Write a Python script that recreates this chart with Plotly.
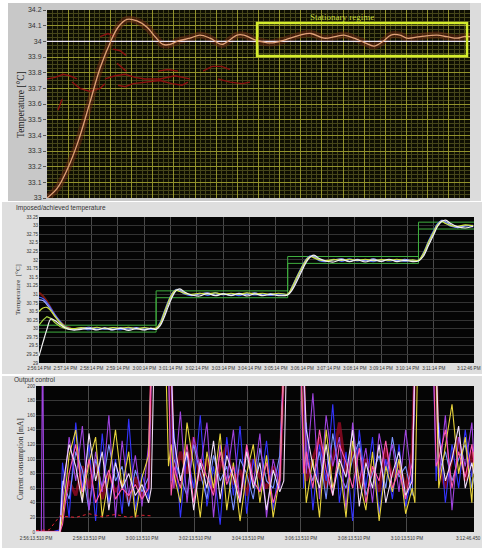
import plotly.graph_objects as go

W, H = 488, 550

# ---------------- panel 1 : temperature around the 34 degC set point ----------------
p1_x = [0, 0.47, 0.95, 1.47, 2.03, 2.51, 2.98, 3.36, 3.78, 4.26, 4.73, 5.11, 5.48, 5.82, 6.15,
        6.76, 7.23, 7.71, 8.27, 8.65, 8.98, 9.31, 9.83, 10.59, 11.25, 11.96, 12.48, 13.1, 13.62,
        14.04, 14.52, 15.04, 15.46, 15.89, 16.26, 16.69, 17.02, 17.64, 18.44, 18.91, 19.39, 19.72, 20.0]
p1_temp = [33.0, 33.06, 33.18, 33.36, 33.61, 33.83, 33.99, 34.09, 34.14, 34.13, 34.09, 34.03, 33.98,
           33.98, 34.0, 34.02, 34.04, 34.02, 33.98, 34.01, 34.04, 34.04, 34.01, 33.99, 34.01, 34.04,
           34.05, 34.02, 34.03, 34.04, 34.02, 33.99, 33.97, 34.0, 34.04, 34.04, 34.02, 34.03, 34.04,
           34.03, 34.02, 34.03, 34.03]
p1_setpoint = 34.0
# broken dark-red trace (gaps = None)
p1_red_x = [0, 0.38, 0.76, 1.09, 1.42, None,
            1.18, 1.56, 2.03, 2.51, 2.74, None,
            2.74, 3.22, 3.69, 4.16, 4.63, 5.34, 6.05, 6.76, None,
            3.36, 3.69, 4.07, 4.63, 5.34, 5.91, 6.38, 6.67, None,
            5.25, 5.72, 6.19, None,
            7.38, 7.8, 8.27, 8.65, None,
            8.08, 8.65, 9.22, 9.6, None,
            2.51, 2.88, 3.22, None,
            3.12, 3.45, 3.74, None,
            3.31, 3.55, 3.74, None,
            0.52, 0.71]
p1_red_y = [33.76, 33.77, 33.79, 33.78, 33.76, None,
            33.74, 33.70, 33.68, 33.70, 33.73, None,
            33.76, 33.78, 33.79, 33.77, 33.76, 33.76, 33.78, 33.76, None,
            33.72, 33.71, 33.73, 33.74, 33.75, 33.73, 33.72, 33.74, None,
            33.81, 33.82, 33.81, None,
            33.81, 33.84, 33.84, 33.82, None,
            33.76, 33.74, 33.73, 33.74, None,
            34.03, 34.05, 34.03, None,
            33.95, 33.94, 33.91, None,
            33.86, 33.83, 33.81, None,
            33.56, 33.63]

# ---------------- panel 2 : imposed / achieved temperature ----------------
t2 = [0.0, 0.15, 0.3, 0.45, 0.6, 0.8, 1.0, 1.3, 1.6, 1.9, 2.2, 2.5, 2.8, 3.1, 3.4, 3.7, 4.0, 4.25, 4.45,
      4.6, 4.75, 4.9, 5.05, 5.2, 5.35, 5.55, 5.8, 6.1, 6.4, 6.7, 7.0, 7.3, 7.6, 7.9, 8.2, 8.5, 8.8, 9.1, 9.45,
      9.6, 9.8, 10.0, 10.15, 10.3, 10.45, 10.65, 10.9, 11.2, 11.5, 11.8, 12.1, 12.4, 12.7, 13.0, 13.3, 13.6,
      13.9, 14.2, 14.42,
      14.6, 14.8, 15.0, 15.15, 15.3, 15.45, 15.65, 15.9, 16.2, 16.5]
s_blue = [30.92, 30.88, 30.76, 30.6, 30.42, 30.22, 30.06, 29.99, 30.02, 29.97, 30.03, 29.98, 30.02, 29.97,
          30.03, 29.99, 30.02, 29.98, 30.0,
          30.18, 30.48, 30.78, 31.02, 31.14, 31.1, 31.0, 30.96, 31.03, 30.97, 31.04, 30.98, 31.02, 30.96,
          31.03, 30.98, 31.01, 30.97, 31.02, 31.0,
          31.2, 31.52, 31.82, 32.02, 32.12, 32.08, 31.98, 31.95, 32.02, 31.96, 32.03, 31.97, 32.01, 31.95,
          32.02, 31.97, 32.0, 31.96, 31.99, 31.98,
          32.2, 32.55, 32.86, 33.06, 33.14, 33.08, 32.98, 32.95, 33.0, 32.96]
s_lavender = [30.84, 30.82, 30.7, 30.55, 30.38, 30.18, 30.03, 29.97, 30.01, 30.04, 29.98, 30.01, 29.96,
              30.02, 29.99, 30.03, 29.97, 30.01, 29.99,
              30.12, 30.4, 30.7, 30.95, 31.12, 31.12, 31.04, 30.97, 31.01, 31.04, 30.97, 31.02, 30.96,
              31.03, 30.99, 31.04, 30.97, 31.02, 30.98, 30.99,
              31.14, 31.45, 31.76, 31.97, 32.1, 32.1, 32.02, 31.96, 32.0, 32.03, 31.96, 32.02, 31.97,
              32.03, 31.96, 32.01, 31.97, 32.02, 31.97, 31.99,
              32.15, 32.48, 32.8, 33.02, 33.15, 33.12, 33.02, 32.94, 32.99, 33.01]
s_white = [29.2, 29.6, 29.98, 30.28, 30.24, 30.12, 30.02, 29.96, 29.98, 30.01, 29.96, 30.02, 29.97, 30.01,
           29.95, 30.0, 29.96, 30.01, 29.98,
           30.08, 30.32, 30.62, 30.9, 31.1, 31.16, 31.06, 30.98, 30.95, 31.02, 30.96, 31.01, 30.97, 31.02,
           30.95, 31.01, 30.96, 31.0, 30.96, 30.98,
           31.1, 31.38, 31.7, 31.93, 32.08, 32.14, 32.04, 31.97, 31.94, 32.01, 31.95, 32.0, 31.94, 32.0,
           31.96, 32.02, 31.95, 31.99, 31.95, 31.97,
           32.1, 32.42, 32.74, 32.98, 33.12, 33.16, 33.06, 32.97, 32.93, 32.98]
s_yellow = [30.5, 30.6, 30.62, 30.52, 30.36, 30.18, 30.05, 30.0, 30.03, 30.0, 30.04, 30.0, 30.03, 30.01,
            30.04, 30.0, 30.03, 30.01, 30.02,
            30.15, 30.45, 30.75, 31.0, 31.12, 31.08, 31.02, 31.0, 31.03, 31.01, 31.04, 31.0, 31.03, 31.0,
            31.04, 31.01, 31.03, 31.0, 31.03, 31.01,
            31.18, 31.5, 31.8, 32.0, 32.1, 32.06, 32.0, 31.98, 32.01, 31.99, 32.02, 31.99, 32.02, 31.98,
            32.01, 31.99, 32.02, 31.98, 32.0, 31.99,
            32.18, 32.52, 32.82, 33.03, 33.12, 33.06, 33.0, 32.98, 33.02, 32.99]
t2_early = [0.0, 0.15, 0.3, 0.45, 0.6, 0.8, 1.0, 1.2]
s_green_early = [30.1, 30.25, 30.35, 30.3, 30.18, 30.06, 30.0, 29.98]
s_red_early = [31.05, 30.95, 30.8, 30.6, 30.4, 30.2, 30.08, 30.02]
band_t = [0.0, 4.45, 9.45, 14.42, 16.53]
band_hi = [30.1, 31.1, 32.1, 33.1, 33.1]
band_lo = [29.9, 30.9, 31.9, 32.9, 32.9]
x2_ticks = [0, 1, 2, 3, 4, 5, 6, 7, 8, 9, 10, 11, 12, 13, 14, 15]
x2_labels = ["2:56:14 PM", "2:57:14 PM", "2:58:14 PM", "2:59:14 PM", "3:00:14 PM", "3:01:14 PM",
             "3:02:14 PM", "3:03:14 PM", "3:04:14 PM", "3:05:14 PM", "3:06:14 PM", "3:07:14 PM",
             "3:08:14 PM", "3:09:14 PM", "3:10:14 PM", "3:11:14 PM"]
x2_end_label = "3:12:46 PM"

# ---------------- panel 3 : output control (current) ----------------
t3 = [0.0, 0.2, 0.24, 0.26, 0.3, 0.6, 0.9,
      1.0, 1.25, 1.5, 1.75, 2.0, 2.25, 2.5, 2.75, 3.0, 3.25, 3.5, 3.75, 4.0, 4.25,
      4.35, 4.45, 4.9, 5.0, 5.1,
      5.2, 5.45, 5.7, 5.95, 6.2, 6.45, 6.7, 6.95, 7.2, 7.45, 7.7, 7.95, 8.2, 8.45, 8.7, 8.95, 9.2,
      9.35, 9.45, 9.9, 10.0, 10.1,
      10.2, 10.45, 10.7, 10.95, 11.2, 11.45, 11.7, 11.95, 12.2, 12.45, 12.7, 12.95, 13.2, 13.45, 13.7,
      13.95, 14.2,
      14.3, 14.4, 14.9, 15.0, 15.1,
      15.2, 15.45, 15.7, 15.95, 16.2, 16.45, 16.53]
c_red = [0, 0, 0, 0, 0, 0, 0,
         30, 70, 50, 90, 60, 100, 45, 80, 55, 70, 40, 75, 50, 60,
         230, 230, 230, 230, 230,
         60, 110, 80, 130, 70, 100, 55, 90, 120, 65, 85, 50, 100, 75, 60, 90, 70,
         230, 230, 230, 230, 230,
         70, 100, 130, 60, 95, 150, 80, 110, 60, 100, 85, 55, 115, 75, 95, 60, 110,
         230, 230, 230, 230, 230,
         90, 60, 100, 130, 70, 110, 80]
c_blue = [0, 0, 0, 0, 0, 0, 3,
          95, 20, 150, 60, 120, 15, 135, 40, 100, 25, 155, 30, 80, 45,
          230, 230, 230, 230, 70,
          140, 20, 110, 60, 160, 35, 90, 10, 130, 50, 145, 25, 100, 55, 125, 30, 95,
          230, 230, 230, 230, 60,
          150, 30, 120, 70, 175, 40, 110, 15, 140, 60, 130, 25, 100, 45, 120, 35, 80,
          230, 230, 230, 230, 70,
          150, 40, 120, 60, 140, 75, 90]
c_lightblue = [0, 0, 0, 0, 0, 0, 0,
               70, 45, 110, 85, 30, 100, 60, 120, 70, 90, 35, 85, 55, 75,
               230, 230, 230, 230, 230,
               100, 75, 50, 120, 80, 45, 105, 70, 90, 30, 100, 80, 45, 115, 70, 60, 105,
               230, 230, 230, 230, 230,
               100, 70, 110, 45, 135, 80, 60, 100, 125, 50, 80, 105, 60, 130, 75, 90, 50,
               230, 230, 230, 230, 230,
               80, 110, 70, 100, 120, 60, 75]
c_violet = [0, 0, 230, 230, 0, 0, 0,
            40, 130, 70, 145, 30, 110, 55, 160, 20, 125, 50, 105, 35, 120,
            230, 230, 230, 230, 230,
            60, 165, 40, 130, 85, 150, 20, 120, 70, 140, 40, 115, 65, 135, 20, 100, 60,
            230, 230, 230, 230, 230,
            80, 190, 45, 160, 90, 130, 30, 150, 70, 115, 40, 135, 85, 120, 55, 140, 65,
            230, 230, 230, 230, 230,
            70, 160, 30, 130, 90, 150, 100]
c_yellow = [0, 0, 0, 0, 0, 0, 0,
            20, 105, 140, 45, 95, 130, 20, 75, 140, 60, 110, 20, 75, 105,
            230, 230, 230, 90, 120,
            80, 40, 150, 90, 20, 110, 60, 135, 30, 95, 15, 80, 120, 40, 105, 20, 75,
            230, 230, 230, 230, 110,
            40, 100, 20, 140, 60, 95, 20, 125, 70, 30, 110, 15, 90, 55, 100, 25, 60,
            40, 230, 230, 230, 230,
            60, 120, 175, 80, 130, 40, 110]
c_white = [0, 0, 0, 0, 0, 0, 0,
           60, 120, 90, 40, 135, 70, 110, 30, 95, 60, 80, 50, 65, 40,
           60, 230, 230, 230, 230,
           130, 70, 110, 30, 95, 60, 125, 45, 105, 75, 40, 110, 60, 95, 30, 85, 55,
           70, 230, 230, 230, 230,
           140, 90, 60, 120, 50, 100, 75, 140, 35, 95, 60, 120, 40, 80, 110, 50, 70,
           230, 230, 230, 230, 230,
           130, 70, 100, 145, 60, 95, 80]
c_pink = [0, 0, 0, 0, 0, 0, 0,
          10, 80, 120, 55, 100, 40, 60, 85, 45, 60, 50, 65, 45, 60,
          230, 230, 230, 230, 50,
          90, 60, 120, 40, 100, 75, 50, 110, 65, 90, 45, 120, 70, 55, 95, 40, 70,
          230, 230, 230, 230, 80,
          110, 60, 140, 85, 50, 120, 95, 60, 115, 40, 90, 70, 125, 60, 85, 45, 95,
          230, 230, 230, 230, 90,
          100, 140, 60, 110, 75, 120, 95]
t3_ref = [0, 0.5, 0.9, 1.5, 2.0, 2.5, 3.0, 3.5, 4.0, 4.4]
c_ref = [2, 3, 22, 20, 25, 21, 24, 20, 23, 22]
x3_ticks = [0, 2, 4, 6, 8, 10, 12, 14]
x3_labels = ["2:56:13.510 PM", "2:58:13.510 PM", "3:00:13.510 PM", "3:02:13.510 PM", "3:04:13.510 PM",
             "3:06:13.510 PM", "3:08:13.510 PM", "3:10:13.510 PM"]
x3_end_label = "3:12:46.450"

fig = go.Figure()

# panel 1
fig.add_trace(go.Scatter(x=p1_red_x, y=p1_red_y, mode="lines", line=dict(color="#8c1010", width=1.4),
                         xaxis="x", yaxis="y", hoverinfo="skip"))
fig.add_trace(go.Scatter(x=p1_x, y=p1_temp, mode="lines", line=dict(color="rgba(110,40,20,0.5)", width=7, shape="spline"),
                         xaxis="x", yaxis="y", hoverinfo="skip"))
fig.add_trace(go.Scatter(x=[0, 20], y=[p1_setpoint, p1_setpoint], mode="lines",
                         line=dict(color="#ece4f4", width=1.2), xaxis="x", yaxis="y"))
fig.add_trace(go.Scatter(x=p1_x, y=p1_temp, mode="lines", line=dict(color="#e0a078", width=1.3, shape="spline"),
                         xaxis="x", yaxis="y"))

# panel 2
fig.add_trace(go.Scatter(x=t2_early, y=s_red_early, mode="lines", line=dict(color="#7a1a10", width=2),
                         xaxis="x2", yaxis="y2"))
fig.add_trace(go.Scatter(x=band_t, y=band_hi, mode="lines", line=dict(color="#3fae3f", width=1, shape="hv"),
                         xaxis="x2", yaxis="y2"))
fig.add_trace(go.Scatter(x=band_t, y=band_lo, mode="lines", line=dict(color="#3fae3f", width=1, shape="hv"),
                         xaxis="x2", yaxis="y2"))
fig.add_trace(go.Scatter(x=t2_early, y=s_green_early, mode="lines", line=dict(color="#a8d840", width=1.2),
                         xaxis="x2", yaxis="y2"))
for ys, col in [(s_blue, "#4a68ff"), (s_lavender, "#a0a8ff"), (s_yellow, "#cce23c"), (s_white, "#f2f2f2")]:
    fig.add_trace(go.Scatter(x=t2, y=ys, mode="lines", line=dict(color=col, width=1.2, shape="spline"),
                             xaxis="x2", yaxis="y2"))

# panel 3
fig.add_trace(go.Scatter(x=t3, y=c_red, mode="lines", line=dict(color="rgba(170,10,40,0.7)", width=3),
                         xaxis="x3", yaxis="y3"))
for ys, col in [(c_blue, "#3434ff"), (c_lightblue, "#7a92ff"), (c_violet, "#a044e0"), (c_yellow, "#e8d43c"),
                (c_pink, "#ff58b0"), (c_white, "#efdcf6")]:
    fig.add_trace(go.Scatter(x=t3, y=ys, mode="lines", line=dict(color=col, width=1.1),
                             xaxis="x3", yaxis="y3"))
fig.add_trace(go.Scatter(x=t3_ref, y=c_ref, mode="lines", line=dict(color="#e02030", width=1, dash="dot"),
                         xaxis="x3", yaxis="y3"))


def box(x0, y0, x1, y1, color):
    # pixel rectangle -> paper coords
    return dict(type="rect", xref="paper", yref="paper", x0=x0 / W, x1=x1 / W, y0=1 - y1 / H, y1=1 - y0 / H,
                fillcolor=color, line=dict(width=0), layer="below")


shapes = [
    box(8, 3, 481, 201, "#c8c8c8"),
    box(470, 3, 481, 201, "#dcdcdc"),
    box(2, 202, 482, 374, "#dedede"),
    box(2, 376, 482, 548, "#e0e0e0"),
    box(47, 10, 470, 198, "#0e0e02"),
    box(39, 217, 474, 363, "#050505"),
    box(36, 386, 474, 532, "#050505"),
    dict(type="rect", xref="x", yref="y", x0=9.93, x1=19.86, y0=33.907, y1=34.117,
         line=dict(color="#d4ec2c", width=2.5), layer="above"),
]

tick_small = dict(size=4.6, color="#333", family="Liberation Sans")
serif = "Liberation Serif"

fig.update_layout(
    template="none",
    width=W, height=H,
    margin=dict(l=0, r=0, t=0, b=0, autoexpand=False),
    paper_bgcolor="white",
    plot_bgcolor="rgba(0,0,0,0)",
    showlegend=False,
    shapes=shapes,
    xaxis=dict(domain=[47 / W, 470 / W], anchor="y", range=[0, 20], dtick=1, showticklabels=False,
               showgrid=True, gridcolor="#92922c", zeroline=False, ticks="", automargin=False, showline=False,
               minor=dict(dtick=0.25, showgrid=True, gridcolor="#46461a")),
    yaxis=dict(domain=[1 - 198 / H, 1 - 10 / H], anchor="x", range=[33, 34.2], tick0=33, dtick=0.1,
               showgrid=True, gridcolor="#92922c", zeroline=False, ticks="outside", ticklen=3,
               tickcolor="#555", tickfont=dict(size=7, color="#333", family="Liberation Sans"),
               automargin=False, showline=False,
               minor=dict(dtick=0.025, showgrid=True, gridcolor="#46461a")),
    xaxis2=dict(domain=[39 / W, 474 / W], anchor="y2", range=[0, 16.53], tickmode="array",
                tickvals=x2_ticks, ticktext=x2_labels, tickangle=0, tickfont=tick_small, ticklabelstandoff=1,
                showgrid=True, gridcolor="#4a4a4a", zeroline=False, ticks="", automargin=False, showline=False),
    yaxis2=dict(domain=[1 - 363 / H, 1 - 217 / H], anchor="x2", range=[29, 33.25], tick0=29, dtick=0.25,
                tickfont=tick_small, showgrid=True, gridcolor="#333333", zeroline=False, ticks="",
                automargin=False, showline=False),
    xaxis3=dict(domain=[36 / W, 474 / W], anchor="y3", range=[0, 16.53], tickmode="array",
                tickvals=x3_ticks, ticktext=x3_labels, tickangle=0, tickfont=tick_small, ticklabelstandoff=2,
                showgrid=True, gridcolor="#4a4a4a", zeroline=False, ticks="", automargin=False, showline=False),
    yaxis3=dict(domain=[1 - 532 / H, 1 - 386 / H], anchor="x3", range=[0, 200], tick0=0, dtick=20,
                tickfont=tick_small, showgrid=True, gridcolor="#383838", zeroline=False, ticks="",
                automargin=False, showline=False),
)


def note(text, x, y, size, angle=0, family="Liberation Sans", xanchor="center", color="#333"):
    # annotation placed by pixel position
    return dict(text=text, xref="paper", yref="paper", x=x / W, y=1 - y / H, xanchor=xanchor,
                yanchor="middle", textangle=angle, showarrow=False,
                font=dict(family=family, size=size, color=color))


anns = [
    dict(text="Stationary regime", xref="x", yref="y", x=13.95, y=34.158, showarrow=False,
         xanchor="center", yanchor="middle", font=dict(family=serif, size=9, color="#c8dc3a")),
    note("Temperature [°C]", 21, 105, 9.5, angle=-90, family=serif, color="#222"),
    note("Imposed/achieved temperature", 14, 208, 6.5, xanchor="left"),
    note("Temperature  [°C]", 18, 290, 7, angle=-90, family=serif),
    note("Output control", 12, 380, 6.5, xanchor="left"),
    note("Current consumption [mA]", 20, 459, 7.5, angle=-90, family=serif),
    note(x2_end_label, 483, 368, 4.6, xanchor="right"),
    note(x3_end_label, 483, 538, 4.6, xanchor="right"),
]
fig.update_layout(annotations=anns)

fig.write_html("out.html", config={"displayModeBar": False},
               post_script="document.body.style.margin='0';")
